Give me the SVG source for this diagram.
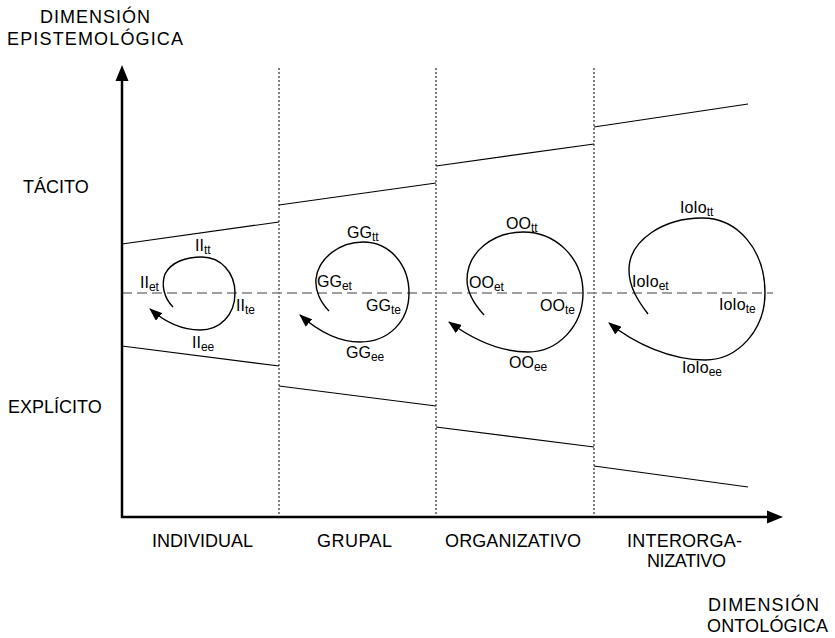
<svg xmlns="http://www.w3.org/2000/svg" width="835" height="638" viewBox="0 0 835 638">
  <style>
    text { font-family: "Liberation Sans", Arial, Helvetica, sans-serif; fill: #000; }
    .axis-label { font-size: 18px; }
    .lbl { font-size: 16px; }
    .sub { font-size: 12px; }
    .axis { stroke: #000; stroke-width: 2.5; fill: none; }
    .bound { stroke: #000; stroke-width: 1.2; fill: none; }
    .divider { stroke: #000; stroke-width: 1; stroke-dasharray: 2 2; fill: none; }
    .midline { stroke: #808080; stroke-width: 1.5; stroke-dasharray: 10 5; fill: none; }
    .spiral { stroke: #000; stroke-width: 1.4; fill: none; marker-end: url(#spiralHead); }
  </style>
  <defs>
    <marker id="spiralHead" viewBox="0 0 13 10" refX="12" refY="5" markerWidth="13" markerHeight="10" markerUnits="userSpaceOnUse" orient="auto">
      <path d="M0,0 L13,5 L0,10 z" fill="#000"/>
    </marker>
  </defs>

  <rect width="835" height="638" fill="#fff"/>

  <!-- axes, boundaries and dividers -->
  <g id="connectors">
    <!-- ontological level dividers -->
    <line class="divider" x1="279" y1="68" x2="279" y2="517"/>
    <line class="divider" x1="436" y1="68" x2="436" y2="517"/>
    <line class="divider" x1="594" y1="68" x2="594" y2="517"/>

    <!-- tacit / explicit border -->
    <line class="midline" x1="122" y1="293" x2="773" y2="293"/>

    <!-- upper boundaries -->
    <line class="bound" x1="122" y1="244" x2="279" y2="222"/>
    <line class="bound" x1="279" y1="205" x2="436" y2="183"/>
    <line class="bound" x1="436" y1="166" x2="594" y2="144"/>
    <line class="bound" x1="594" y1="127" x2="748" y2="104"/>

    <!-- lower boundaries -->
    <line class="bound" x1="122" y1="346" x2="279" y2="366"/>
    <line class="bound" x1="279" y1="386" x2="436" y2="406"/>
    <line class="bound" x1="436" y1="427" x2="594" y2="447"/>
    <line class="bound" x1="594" y1="466" x2="748" y2="487"/>

    <!-- axes -->
    <line class="axis" x1="122" y1="518" x2="122" y2="78"/>
    <path d="M122,65 L128.5,81 L115.5,81 z" fill="#000"/>
    <line class="axis" x1="121" y1="517" x2="770" y2="517"/>
    <path d="M783,517 L767,510.5 L767,523.5 z" fill="#000"/>
  </g>

  <!-- knowledge spirals -->
  <g id="spiral-individual">
    <path class="spiral" d="M173,307 C164,298 161,285 165,274 C171,262 186,257 202,257 C221,257 235,273 235,293 C235,315 220,330 200,330 C183,330 165,322 150,309"/>
    <text class="lbl" x="195" y="251">II<tspan class="sub" dy="3">tt</tspan></text>
    <text class="lbl" x="140" y="288">II<tspan class="sub" dy="3">et</tspan></text>
    <text class="lbl" x="236" y="311">II<tspan class="sub" dy="3">te</tspan></text>
    <text class="lbl" x="192" y="348">II<tspan class="sub" dy="3">ee</tspan></text>
  </g>

  <g id="spiral-group">
    <path class="spiral" d="M329,311 C320,302 315,290 316,279 C318,258 340,242 363,242 C390,242 409,265 409,293 C409,322 388,342 360,342 C339,342 318,331 300,315"/>
    <text class="lbl" x="347" y="238">GG<tspan class="sub" dy="3">tt</tspan></text>
    <text class="lbl" x="317" y="287">GG<tspan class="sub" dy="3">et</tspan></text>
    <text class="lbl" x="366" y="311">GG<tspan class="sub" dy="3">te</tspan></text>
    <text class="lbl" x="346" y="358">GG<tspan class="sub" dy="3">ee</tspan></text>
  </g>

  <g id="spiral-organization">
    <path class="spiral" d="M484,315 C474,304 467,293 467,280 C467,252 493,232 523,232 C556,232 583,258 583,293 C583,326 558,352 528,352 C499,352 471,338 449,322"/>
    <text class="lbl" x="506" y="229">OO<tspan class="sub" dy="3">tt</tspan></text>
    <text class="lbl" x="469" y="288">OO<tspan class="sub" dy="3">et</tspan></text>
    <text class="lbl" x="540" y="311">OO<tspan class="sub" dy="3">te</tspan></text>
    <text class="lbl" x="509" y="368">OO<tspan class="sub" dy="3">ee</tspan></text>
  </g>

  <g id="spiral-interorganization">
    <path class="spiral" d="M648,314 C638,301 629,287 629,270 C629,240 664,218 702,218 C738,218 765,250 765,293 C765,330 738,360 705,360 C671,360 635,344 609,323"/>
    <text class="lbl" x="680" y="213">IoIo<tspan class="sub" dy="3">tt</tspan></text>
    <text class="lbl" x="632" y="287">IoIo<tspan class="sub" dy="3">et</tspan></text>
    <text class="lbl" x="719" y="310">IoIo<tspan class="sub" dy="3">te</tspan></text>
    <text class="lbl" x="682" y="373">IoIo<tspan class="sub" dy="3">ee</tspan></text>
  </g>

  <!-- axis titles and level names -->
  <g id="labels">
    <text class="axis-label" x="40" y="23" textLength="110" lengthAdjust="spacing">DIMENSIÓN</text>
    <text class="axis-label" x="7" y="45" textLength="176" lengthAdjust="spacing">EPISTEMOLÓGICA</text>
    <text class="axis-label" x="23" y="193">TÁCITO</text>
    <text class="axis-label" x="8" y="413">EXPLÍCITO</text>
    <text class="axis-label" x="152" y="547" textLength="101" lengthAdjust="spacing">INDIVIDUAL</text>
    <text class="axis-label" x="317" y="547" textLength="75" lengthAdjust="spacing">GRUPAL</text>
    <text class="axis-label" x="445" y="547" textLength="136" lengthAdjust="spacing">ORGANIZATIVO</text>
    <text class="axis-label" x="627" y="547" textLength="115" lengthAdjust="spacing">INTERORGA-</text>
    <text class="axis-label" x="647" y="567" textLength="79" lengthAdjust="spacing">NIZATIVO</text>
    <text class="axis-label" x="708" y="611" textLength="111" lengthAdjust="spacing">DIMENSIÓN</text>
    <text class="axis-label" x="707" y="632" textLength="121" lengthAdjust="spacing">ONTOLÓGICA</text>
  </g>
</svg>
